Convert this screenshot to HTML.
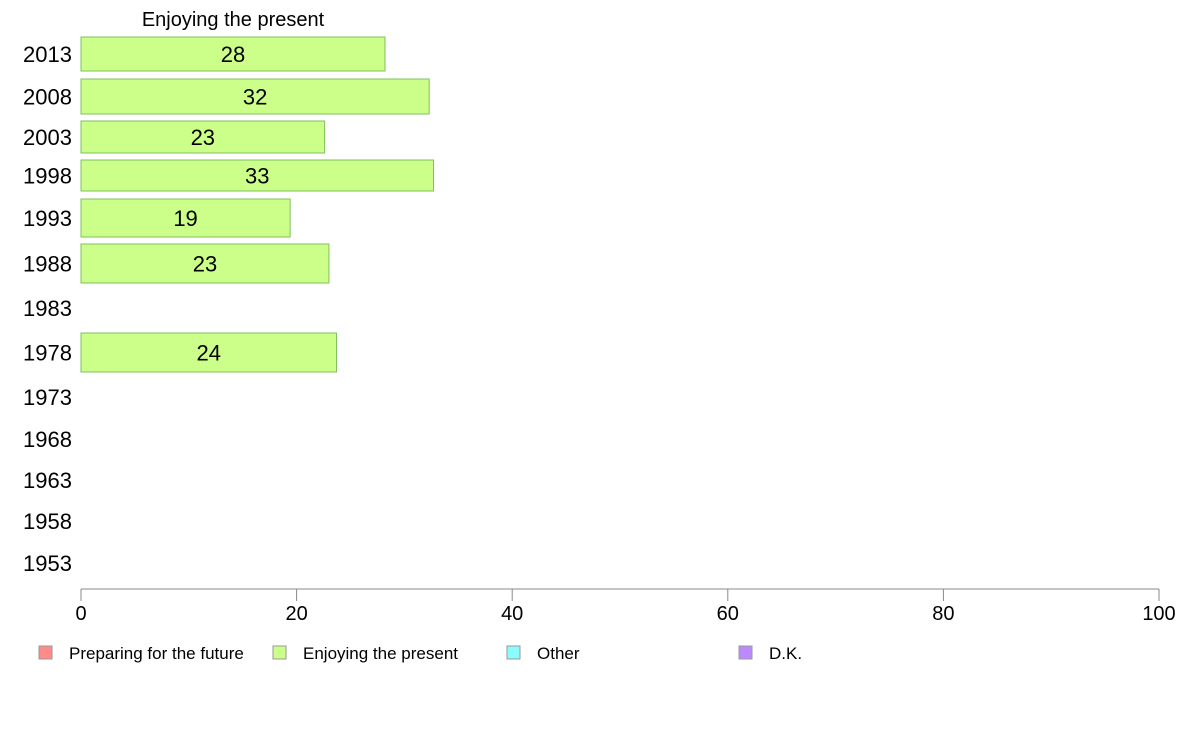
<!DOCTYPE html>
<html><head><meta charset="utf-8"><style>
body{margin:0;background:#fff;}
svg text{font-family:"Liberation Sans",Arial,sans-serif;}
</style></head><body>
<svg id="chart" width="1188" height="736" xmlns="http://www.w3.org/2000/svg">
<text x="233" y="26" font-size="20" text-anchor="middle">Enjoying the present</text>
<g id="rows"></g>
<g id="axis"></g>
<g id="legend"></g>
</svg>
<script>
const years = ["2013","2008","2003","1998","1993","1988","1983","1978","1973","1968","1963","1958","1953"];
const values = [28.2, 32.3, 22.6, 32.7, 19.4, 23.0, null, 23.7, null, null, null, null, null];
const labels = ["28","32","23","33","19","23","","24","","","","",""];
const ticks = [0,20,40,60,80,100];
const legendNames = ["Preparing for the future","Enjoying the present","Other","D.K."];
const legendColors = ["#ff8a8a","#ccff8a","#8afcfc","#bb8aff"];
// layout (row bands, top/bottom pixel)
const bandTop = [37,79,121,160,199,244,290,333,379,421,462,503,545];
const bandBot = [71,114,153,191,237,283,326,372,415,457,498,539,581];
const NS="http://www.w3.org/2000/svg";
const x = v => 81 + v*(1159-81)/100;
function mk(tag, attrs, parent){const e=document.createElementNS(NS,tag);for(const k in attrs)e.setAttribute(k,attrs[k]);parent.appendChild(e);return e;}
const rows=document.getElementById('rows');
years.forEach((y,i)=>{
  const cy=(bandTop[i]+bandBot[i])/2;
  const t=mk('text',{x:72,y:cy+8,'font-size':22,'text-anchor':'end'},rows);
  
  
  t.textContent=y;
  if(values[i]!=null){
    const r=mk('rect',{x:x(0),y:bandTop[i],width:x(values[i])-x(0),height:bandBot[i]-bandTop[i],fill:'#ccff8a',stroke:'#7fbf5f','stroke-width':1},rows);
    
    
    const l=mk('text',{x:(x(0)+x(values[i]))/2,y:cy+8,'font-size':22,'text-anchor':'middle'},rows);
    
    
    l.textContent=labels[i];
  }
});
const axis=document.getElementById('axis');
const al=mk('line',{x1:x(0),x2:x(100),y1:589,y2:589,stroke:'#888','stroke-width':1},axis);


ticks.forEach(t=>{
  const tl=mk('line',{x1:x(t),x2:x(t),y1:589,y2:601,stroke:'#888','stroke-width':1},axis);
  
  
  const tx=mk('text',{x:x(t),y:620,'font-size':20,'text-anchor':'middle'},axis);
  
  
  tx.textContent=t;
});
const legend=document.getElementById('legend');
const legX=[39,273,507,739];
legendNames.forEach((n,i)=>{
  const s=mk('rect',{x:legX[i],y:646,width:13,height:13,fill:legendColors[i],stroke:'#999','stroke-width':1},legend);
  
  
  const t=mk('text',{x:legX[i]+30,y:659,'font-size':17},legend);
  
  
  t.textContent=n;
});
</script>
</body></html>
